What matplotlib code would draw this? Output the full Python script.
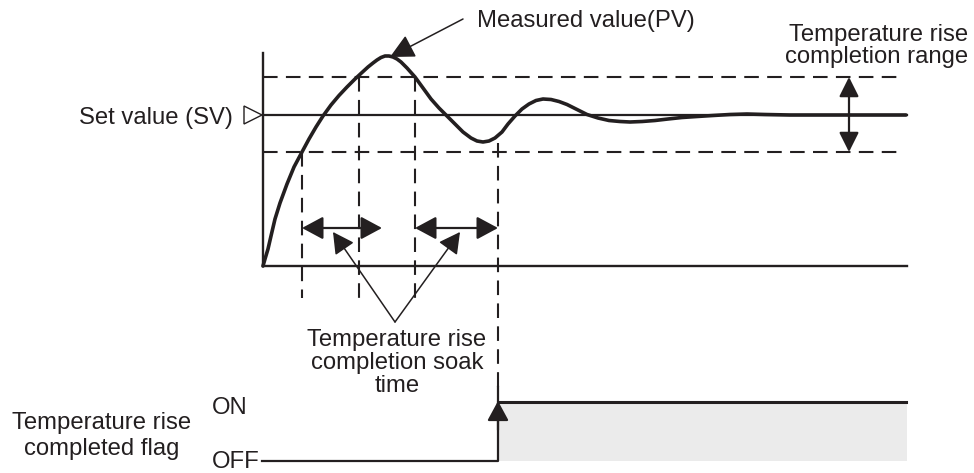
# 温度上升完成标志示意图
import matplotlib
matplotlib.use("Agg")
import matplotlib.pyplot as plt
from matplotlib.patches import FancyArrowPatch, Polygon, Rectangle

plt.rcParams["font.family"] = ["Liberation Sans", "DejaVu Sans"]

INK = "#231f20"

# 测量值(PV)曲线, 像素坐标读图
pv_x = [263, 265, 268, 271, 275, 280, 287, 294, 302, 309, 316, 323, 331, 339,
        347, 355, 362, 368, 373, 377, 381, 385, 389, 393, 397, 401, 407, 415,
        423, 431, 439, 447, 455, 463, 471, 477, 483, 489, 495, 502, 508, 515,
        522, 529, 536, 543, 551, 559, 567, 575, 581, 587, 598, 609, 620, 630,
        642, 655, 668, 682, 697, 713, 730, 747, 765, 790, 830, 870, 906]
pv_y = [266, 259, 249, 236, 219, 203, 184, 167, 152, 139, 127, 116, 105, 95.5,
        87, 79, 72.5, 67, 63, 60, 57.5, 56, 56, 57, 59, 62, 68, 77,
        88, 99, 108, 116, 124, 132, 138, 141, 142, 141, 138, 132, 124, 116,
        109, 104, 100.5, 99, 99.5, 101.5, 104.5, 108.5, 111.5, 114.5, 118, 120.5, 121.5, 122,
        121.5, 120.5, 119, 117.5, 116.5, 115.5, 114.5, 114, 114.5, 115, 115, 115, 115]

sv_level = 115
band_top, band_bottom = 77, 152
t_start, t_end = 263, 907
axis_top, axis_base = 53, 266
soak_spans = [(302, 382), (415, 498)]
# 竖虚线: (x, 上端, 下端)
guide_lines = [(302, 152, 298), (359, 77, 303), (415, 77, 303), (498, 143, 387)]
flag_on_x = 498
flag_on_y, flag_off_y = 402, 461


def arrow(ax, p0, p1, style, lw=1.6, hl=13, hw=6.5):
    ax.add_patch(FancyArrowPatch(p0, p1, arrowstyle=f"{style},head_length={hl},head_width={hw}",
                                 mutation_scale=1, color=INK, lw=lw, shrinkA=0, shrinkB=0,
                                 zorder=5))


fig = plt.figure(figsize=(9.74, 4.73), dpi=100)
ax = fig.add_axes([0, 0, 1, 1])
ax.set_xlim(0, 974)
ax.set_ylim(473, 0)
ax.axis("off")

dash = (0, (7, 4))

# 坐标轴和设定值线
ax.plot([t_start, t_start], [axis_top, axis_base], color=INK, lw=1.7)
ax.plot([t_start, t_end], [axis_base, axis_base], color=INK, lw=1.7)
ax.plot([t_start, t_end], [sv_level, sv_level], color=INK, lw=1.6)
for y in (band_top, band_bottom):
    ax.plot([t_start, 904], [y, y], color=INK, lw=1.5, ls=dash)
for x, y0, y1 in guide_lines:
    ax.plot([x, x], [y0, y1], color=INK, lw=1.5, ls=dash)

ax.plot(pv_x, pv_y, color=INK, lw=2.6, solid_capstyle="round",
        solid_joinstyle="round", zorder=4)

# 设定值三角形
ax.add_patch(Polygon([(244, 106), (244, 124), (262, 115)], closed=True,
                     fill=False, ec=INK, lw=1.0))

# 保温时间箭头
for a, b in soak_spans:
    arrow(ax, (a, 228), (b, 228), "<|-|>", hl=13, hw=7)
arrow(ax, (395, 322), (333, 232), "-|>", lw=1.1, hl=13, hw=7)
arrow(ax, (395, 322), (460, 232), "-|>", lw=1.1, hl=13, hw=7)

# 范围箭头
arrow(ax, (849, 77), (849, 152), "<|-|>", hl=12, hw=6)
# PV 箭头
arrow(ax, (463, 19), (390, 57), "-|>", lw=1.1, hl=15, hw=7.5)

# 标志信号
ax.add_patch(Rectangle((flag_on_x, flag_on_y), 907 - flag_on_x, flag_off_y - flag_on_y,
                       fc="#ebebeb", ec="none", zorder=1))
ax.plot([262, flag_on_x, flag_on_x], [flag_off_y, flag_off_y, 387], color=INK, lw=1.6)
ax.plot([flag_on_x, 906], [flag_on_y, flag_on_y], color=INK, lw=2.2)
arrow(ax, (flag_on_x, 430), (flag_on_x, 401), "-|>", hl=12, hw=6.5)

fs = 17.2
kw = dict(color=INK, fontsize=fs, va="baseline")
ax.text(477, 27, "Measured value(PV)", ha="left", **kw)
ax.text(968, 41, "Temperature rise", ha="right", **kw)
ax.text(968, 63, "completion range", ha="right", **kw)
ax.text(233, 124, "Set value (SV)", ha="right", **kw)
for yb, s in zip([346, 369, 392], ["Temperature rise", "completion soak", "time"]):
    ax.text(397, yb, s, ha="center", **kw)
ax.text(102, 429, "Temperature rise", ha="center", **kw)
ax.text(102, 455, "completed flag", ha="center", **kw)
ax.text(212, 414, "ON", ha="left", **kw)
ax.text(212, 468, "OFF", ha="left", **kw)

plt.savefig("out.png", dpi=100)
